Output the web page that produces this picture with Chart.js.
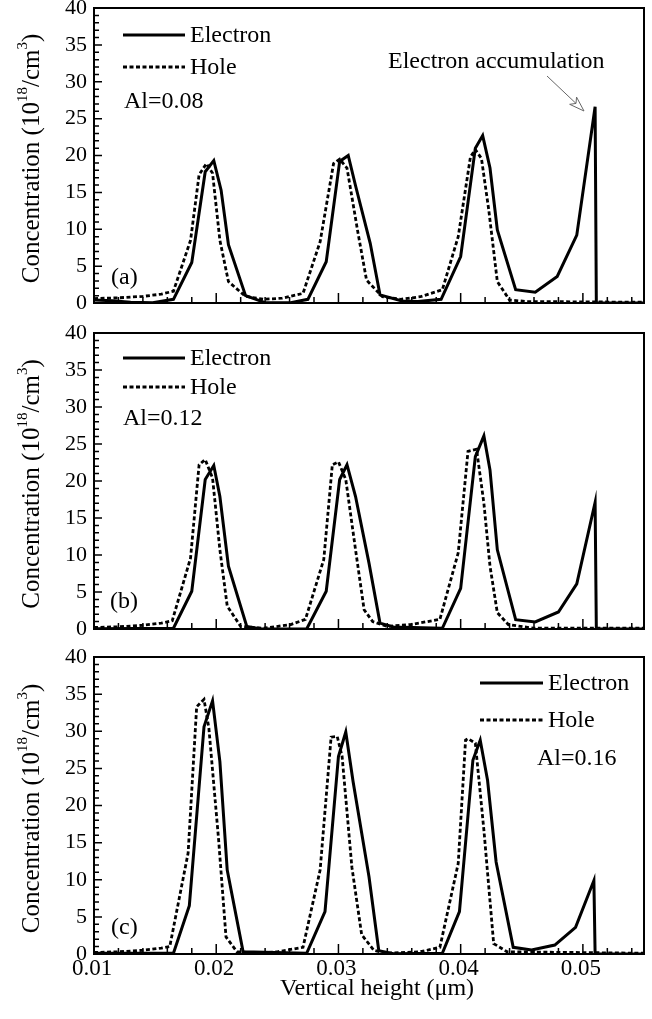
<!DOCTYPE html>
<html>
<head>
<meta charset="utf-8">
<script src="https://cdn.jsdelivr.net/npm/chart.js@4"></script>
<style>
  html, body { margin: 0; padding: 0; background: #fff; }
  #wrap { position: relative; width: 652px; height: 1019px; }
  #wrap canvas { position: absolute; left: 0; }
</style>
</head>
<body>
<div id="wrap">
  <canvas id="panelA" width="652" height="320" style="top:0"></canvas>
  <canvas id="panelB" width="652" height="320" style="top:320px"></canvas>
  <canvas id="panelC" width="652" height="379" style="top:640px"></canvas>
</div>
<script>
// values (x in um, concentration in 1e18/cm3)
const xElecA = [0.0100, 0.0115, 0.0130, 0.0148, 0.0165, 0.0180, 0.0191, 0.0198, 0.0204, 0.0210, 0.0224, 0.0240, 0.0261, 0.0275, 0.0290, 0.0301, 0.0308, 0.0314, 0.0326, 0.0334, 0.0352, 0.0365, 0.0384, 0.0400, 0.0412, 0.0418, 0.0424, 0.0430, 0.0445, 0.0461, 0.0479, 0.0495, 0.0510, 0.0511, 0.0550];
const yElecA = [0.4, 0.3, 0.1, 0.05, 0.5, 5.5, 17.8, 19.3, 15.3, 7.9, 1.0, 0.05, 0.05, 0.5, 5.6, 19.2, 20.0, 15.9, 8.1, 1.1, 0.27, 0.2, 0.5, 6.3, 21.0, 22.7, 18.3, 9.9, 1.8, 1.45, 3.6, 9.2, 26.6, 0, 0];
const xHoleA = [0.0100, 0.0120, 0.0140, 0.0155, 0.0165, 0.0179, 0.0186, 0.0192, 0.0197, 0.0203, 0.0210, 0.0224, 0.0239, 0.0254, 0.0271, 0.0285, 0.0296, 0.0301, 0.0307, 0.0316, 0.0323, 0.0336, 0.0351, 0.0367, 0.0385, 0.0398, 0.0408, 0.0412, 0.0417, 0.0423, 0.0430, 0.0440, 0.0454, 0.0550];
const yHoleA = [0.6, 0.7, 0.9, 1.2, 1.6, 8.5, 17.4, 18.9, 17.6, 8.5, 2.9, 0.9, 0.5, 0.65, 1.3, 8.3, 18.9, 19.5, 18.3, 9.5, 3.1, 0.85, 0.5, 0.85, 1.8, 9.0, 19.8, 20.8, 19.6, 12.6, 2.9, 0.4, 0.2, 0.1];

const xElecB = [0.0100, 0.0165, 0.0180, 0.0191, 0.0198, 0.0203, 0.0210, 0.0225, 0.0237, 0.0274, 0.0290, 0.0301, 0.0307, 0.0314, 0.0325, 0.0334, 0.0345, 0.0385, 0.0400, 0.0412, 0.0419, 0.0424, 0.0430, 0.0445, 0.0461, 0.0480, 0.0495, 0.0510, 0.0511, 0.0550];
const yElecB = [0.05, 0.1, 5.1, 20.2, 22.1, 17.9, 8.5, 0.35, 0.0, 0.0, 5.1, 20.2, 22.2, 17.9, 8.9, 0.8, 0.27, 0.1, 5.5, 23.3, 26.1, 21.5, 10.7, 1.25, 0.95, 2.3, 6.1, 17.1, 0, 0];
const xHoleB = [0.0100, 0.0120, 0.0140, 0.0155, 0.0164, 0.0179, 0.0186, 0.0191, 0.0197, 0.0203, 0.0209, 0.0220, 0.0239, 0.0261, 0.0273, 0.0288, 0.0295, 0.0300, 0.0306, 0.0314, 0.0321, 0.0328, 0.0340, 0.0359, 0.0383, 0.0398, 0.0406, 0.0413, 0.0419, 0.0424, 0.0430, 0.0439, 0.0460, 0.0550];
const yHoleB = [0.2, 0.3, 0.5, 0.8, 1.1, 9.6, 22.2, 22.9, 20.4, 10.7, 3.1, 0.35, 0.1, 0.6, 1.3, 9.4, 22.2, 22.6, 20.2, 10.7, 2.6, 1.0, 0.35, 0.6, 1.3, 10.3, 24.0, 24.3, 17.0, 8.5, 2.2, 0.6, 0.1, 0.1];

const xElecC = [0.0100, 0.0165, 0.0178, 0.0190, 0.0197, 0.0203, 0.0209, 0.0222, 0.0274, 0.0289, 0.0300, 0.0306, 0.0312, 0.0325, 0.0333, 0.0345, 0.0385, 0.0399, 0.0410, 0.0416, 0.0422, 0.0429, 0.0443, 0.0458, 0.0477, 0.0494, 0.0509, 0.0510, 0.0550];
const yElecC = [0.1, 0.1, 6.5, 30.6, 34.1, 25.9, 11.3, 0.3, 0.1, 5.7, 26.6, 29.9, 23.2, 10.4, 0.45, 0.05, 0.1, 5.7, 26.1, 28.8, 23.4, 12.4, 0.9, 0.55, 1.2, 3.6, 9.9, 0, 0];
const xHoleC = [0.0100, 0.0120, 0.0140, 0.0155, 0.0162, 0.0177, 0.0184, 0.0190, 0.0194, 0.0202, 0.0208, 0.0217, 0.0235, 0.0250, 0.0271, 0.0285, 0.0294, 0.0299, 0.0303, 0.0311, 0.0319, 0.0329, 0.0338, 0.0367, 0.0383, 0.0398, 0.0404, 0.0406, 0.0412, 0.0419, 0.0427, 0.0438, 0.0550];
const yHoleC = [0.2, 0.3, 0.5, 0.8, 1.0, 13.6, 33.3, 34.3, 30.4, 15.3, 2.3, 0.3, 0.1, 0.3, 0.9, 11.3, 29.2, 29.3, 26.6, 11.7, 2.6, 0.5, 0.1, 0.3, 0.9, 12.2, 28.8, 29.0, 28.4, 16.7, 1.4, 0.3, 0.1];

const xRange = [0.01, 0.055];
const yTicks = [0, 5, 10, 15, 20, 25, 30, 35, 40];
const xTickLabels = ['0.01', '0.02', '0.03', '0.04', '0.05'];
const seriesNames = ['Electron', 'Hole'];

const SERIF = '"Liberation Serif", "Times New Roman", serif';

const points = (xs, ys) => xs.map((x, i) => ({ x, y: ys[i] }));

const panelDecor = {
  id: 'panelDecor',
  afterDraw(chart, args, opts) {
    const { ctx, chartArea: area, scales } = chart;
    const xs = scales.x, ys = scales.y;
    ctx.save();

    // frame
    ctx.strokeStyle = '#000';
    ctx.lineWidth = 2;
    ctx.strokeRect(area.left, area.top, area.right - area.left, area.bottom - area.top);

    // inward ticks
    ctx.lineWidth = 1.5;
    ctx.beginPath();
    for (let i = 0; i <= 22; i++) {
      const px = xs.getPixelForValue(xRange[0] + i * 0.002);
      const len = i % 5 === 0 ? 10 : 6;
      ctx.moveTo(px, area.bottom);
      ctx.lineTo(px, area.bottom - len);
    }
    for (let v = 0; v <= 40; v++) {
      const py = ys.getPixelForValue(v);
      const len = v % 5 === 0 ? 8 : 5;
      ctx.moveTo(area.left, py);
      ctx.lineTo(area.left + len, py);
    }
    ctx.stroke();

    // y title with superscripts
    ctx.fillStyle = '#000';
    ctx.save();
    ctx.translate(32, (area.top + area.bottom) / 2 + 3);
    ctx.rotate(-Math.PI / 2);
    ctx.textBaseline = 'middle';
    const parts = [
      ['Concentration (10', 25, 0], ['18', 15, -9], ['/cm', 25, 0], ['3', 15, -9], [')', 25, 0]
    ];
    let total = 0;
    parts.forEach(p => { ctx.font = `${p[1]}px ${SERIF}`; total += ctx.measureText(p[0]).width; });
    let cx = -total / 2;
    parts.forEach(p => {
      ctx.font = `${p[1]}px ${SERIF}`;
      ctx.fillText(p[0], cx, p[2]);
      cx += ctx.measureText(p[0]).width;
    });
    ctx.restore();

    // legend
    ctx.font = `24px ${SERIF}`;
    ctx.textBaseline = 'middle';
    ctx.textAlign = 'left';
    chart.data.datasets.forEach((ds, i) => {
      const y = opts.legend.y[i];
      ctx.beginPath();
      ctx.lineWidth = 3;
      ctx.setLineDash(ds.borderDash || []);
      ctx.moveTo(opts.legend.x0, y);
      ctx.lineTo(opts.legend.x1, y);
      ctx.stroke();
      ctx.setLineDash([]);
      ctx.fillText(ds.label, opts.legend.x1 + 5, y + 1);
    });

    // notes
    (opts.notes || []).forEach(n => ctx.fillText(n.text, n.x, n.y));

    // arrow
    if (opts.arrow) {
      const [x0, y0, x1, y1] = opts.arrow;
      const ang = Math.atan2(y1 - y0, x1 - x0);
      const hl = 15, hw = 5;
      const bx = x1 - hl * Math.cos(ang), by = y1 - hl * Math.sin(ang);
      ctx.strokeStyle = '#666';
      ctx.lineWidth = 1;
      ctx.beginPath();
      ctx.moveTo(x0, y0);
      ctx.lineTo(bx + 4 * Math.cos(ang), by + 4 * Math.sin(ang));
      ctx.stroke();
      ctx.beginPath();
      ctx.moveTo(x1, y1);
      ctx.lineTo(bx - hw * Math.sin(ang), by + hw * Math.cos(ang));
      ctx.lineTo(bx + 4 * Math.cos(ang), by + 4 * Math.sin(ang));
      ctx.lineTo(bx + hw * Math.sin(ang), by - hw * Math.cos(ang));
      ctx.closePath();
      ctx.fillStyle = '#fff';
      ctx.fill();
      ctx.stroke();
    }

    // x title
    if (opts.xTitle) {
      ctx.fillStyle = '#000';
      ctx.font = `24px ${SERIF}`;
      ctx.textAlign = 'center';
      ctx.fillText(opts.xTitle, (area.left + area.right) / 2 + 8, opts.xTitleY);
    }
    ctx.restore();
  }
};

function makePanel(id, elec, hole, box, decor, showX) {
  const canvas = document.getElementById(id);
  return new Chart(canvas, {
    type: 'line',
    data: {
      datasets: [
        { label: seriesNames[0], data: elec, borderColor: '#000', borderWidth: 3, pointRadius: 0, tension: 0 },
        { label: seriesNames[1], data: hole, borderColor: '#000', borderWidth: 2.8, borderDash: [4, 2.5], pointRadius: 0, tension: 0 }
      ]
    },
    options: {
      responsive: false,
      animation: false,
      devicePixelRatio: 1,
      layout: { padding: { left: 0, right: 652 - 644, top: box.top, bottom: 0 } },
      plugins: { legend: { display: false }, tooltip: { enabled: false }, panelDecor: decor },
      scales: {
        x: {
          type: 'linear',
          min: xRange[0],
          max: xRange[1],
          grid: { display: false, drawTicks: false },
          border: { display: false },
          ticks: {
            display: showX,
            stepSize: 0.01,
            includeBounds: false,
            autoSkip: false,
            maxRotation: 0,
            padding: 1,
            labelOffset: -2,
            color: '#000',
            font: { family: SERIF, size: 23 },
            callback: v => xTickLabels.find(t => Math.abs(parseFloat(t) - v) < 1e-6) || ''
          },
          afterFit: s => { s.height = canvas.height - box.bottom; s.paddingLeft = 0; s.paddingRight = 0; }
        },
        y: {
          min: 0,
          max: 40,
          grid: { display: false, drawTicks: false },
          border: { display: false },
          afterBuildTicks: s => { s.ticks = yTicks.map(v => ({ value: v })); },
          ticks: { padding: 7, color: '#000', font: { family: SERIF, size: 22 } },
          afterFit: s => { s.width = 94; s.paddingTop = 0; s.paddingBottom = 0; }
        }
      }
    },
    plugins: [panelDecor]
  });
}

makePanel('panelA', points(xElecA, yElecA), points(xHoleA, yHoleA), { top: 8, bottom: 303 }, {
  legend: { x0: 123, x1: 185, y: [35, 67] },
  notes: [{ text: 'Al=0.08', x: 124, y: 102 }, { text: '(a)', x: 111, y: 278 }, { text: 'Electron accumulation', x: 388, y: 62 }],
  arrow: [547, 76, 584, 111]
}, false);

makePanel('panelB', points(xElecB, yElecB), points(xHoleB, yHoleB), { top: 13, bottom: 309 }, {
  legend: { x0: 123, x1: 185, y: [38, 67] },
  notes: [{ text: 'Al=0.12', x: 123, y: 99 }, { text: '(b)', x: 110, y: 282 }]
}, false);

makePanel('panelC', points(xElecC, yElecC), points(xHoleC, yHoleC), { top: 17, bottom: 314 }, {
  legend: { x0: 480, x1: 543, y: [43, 80] },
  notes: [{ text: 'Al=0.16', x: 537, y: 119 }, { text: '(c)', x: 111, y: 288 }],
  xTitle: 'Vertical height (\u03bcm)',
  xTitleY: 349
}, true);
</script>
</body>
</html>
